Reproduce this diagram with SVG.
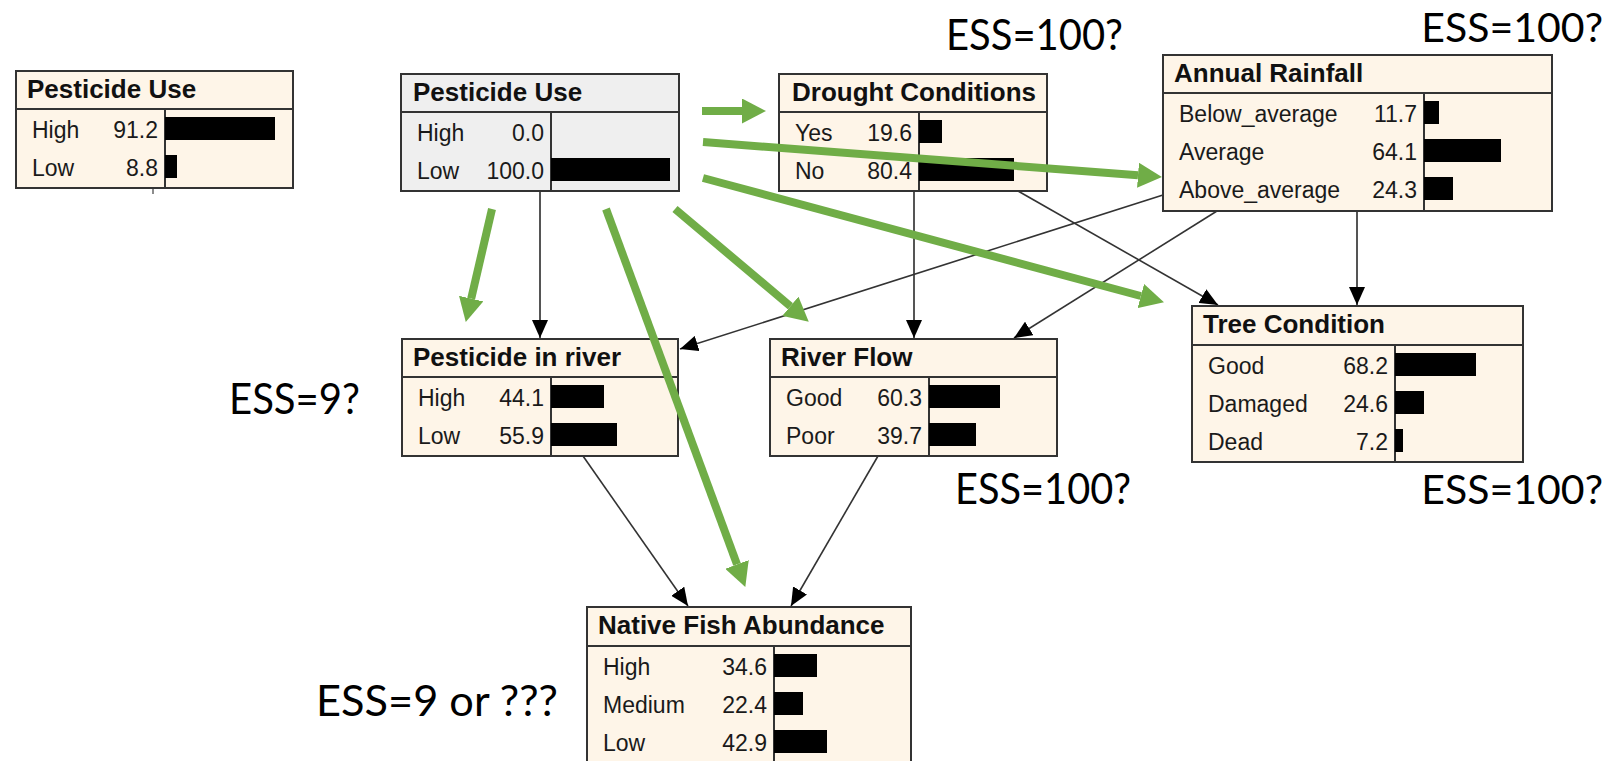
<svg xmlns="http://www.w3.org/2000/svg" width="1614" height="761" viewBox="0 0 1614 761">
  <style>
    .box { fill: #fef5e8; stroke: #333; stroke-width: 2; }
    .box.obs { fill: #efefef; }
    .sep { stroke: #333; stroke-width: 2; fill: none; }
    .title { font-family: "Liberation Sans", Arial, sans-serif; font-weight: bold; font-size: 26px; fill: #111; }
    .lbl { font-family: "Liberation Sans", Arial, sans-serif; font-size: 23px; fill: #1a1a1a; }
    .val { font-family: "Liberation Sans", Arial, sans-serif; font-size: 23px; fill: #1a1a1a; text-anchor: end; }
    .bar { fill: #000; }
    .link { stroke: #333; stroke-width: 1.6; fill: none; marker-end: url(#head); }
    .link.strong { stroke: #555; stroke-width: 2; }
    .hint { stroke: #70ad47; stroke-width: 8; fill: none; marker-end: url(#ghead); }
    .ess { font-family: Lato, "Open Sans", sans-serif; font-size: 43px; fill: #000; }
    .ess.edge { font-size: 41px; text-anchor: end; }
  </style>
  <defs>
    <marker id="head" markerUnits="userSpaceOnUse" markerWidth="18" markerHeight="16" refX="18" refY="8" orient="auto">
      <path d="M0,0 L18,8 L0,16 Z" fill="#000"/>
    </marker>
    <marker id="ghead" markerUnits="userSpaceOnUse" markerWidth="24" markerHeight="25" refX="0" refY="12.5" orient="auto">
      <path d="M0,0 L24,12.5 L0,25 Z" fill="#70ad47"/>
    </marker>
  </defs>

  <rect width="1614" height="761" fill="#fff"/>

  <!-- network links -->
  <g id="connectors">
    <line class="link strong" x1="540" y1="191" x2="540" y2="338"/>
    <line class="link strong" x1="914" y1="191" x2="914" y2="338"/>
    <line class="link" x1="1018" y1="191" x2="1218" y2="305"/>
    <line class="link" x1="1163" y1="195" x2="680" y2="349"/>
    <line class="link" x1="1217" y1="211" x2="1014" y2="338"/>
    <line class="link strong" x1="1357" y1="211" x2="1357" y2="305"/>
    <line class="link" x1="583" y1="456" x2="688" y2="606"/>
    <line class="link" x1="878" y1="456" x2="791" y2="606"/>
    <line x1="153" y1="188" x2="153" y2="194" stroke="#666" stroke-width="1.5"/>
  </g>

  <!-- Pesticide Use (prior) -->
  <g id="pesticide-use-prior">
    <rect class="box" x="16" y="71" width="277" height="117"/>
    <line class="sep" x1="16" y1="109" x2="293" y2="109"/>
    <line class="sep" x1="165" y1="109" x2="165" y2="188"/>
    <text class="title" x="27" y="98">Pesticide Use</text>
    <text class="lbl" x="32" y="138">High</text><text class="val" x="158" y="138">91.2</text>
    <rect class="bar" x="165" y="117" width="110" height="23"/>
    <text class="lbl" x="32" y="176">Low</text><text class="val" x="158" y="176">8.8</text>
    <rect class="bar" x="165" y="155" width="12" height="23"/>
  </g>

  <!-- Pesticide Use (observed) -->
  <g id="pesticide-use">
    <rect class="box obs" x="401" y="74" width="278" height="117"/>
    <line class="sep" x1="401" y1="112" x2="679" y2="112"/>
    <line class="sep" x1="551" y1="112" x2="551" y2="191"/>
    <text class="title" x="413" y="101">Pesticide Use</text>
    <text class="lbl" x="417" y="141">High</text><text class="val" x="544" y="141">0.0</text>
    <text class="lbl" x="417" y="179">Low</text><text class="val" x="544" y="179">100.0</text>
    <rect class="bar" x="551" y="158" width="119" height="23"/>
  </g>

  <!-- Drought Conditions -->
  <g id="drought-conditions">
    <rect class="box" x="779" y="74" width="268" height="117"/>
    <line class="sep" x1="779" y1="112" x2="1047" y2="112"/>
    <line class="sep" x1="919" y1="112" x2="919" y2="191"/>
    <text class="title" x="792" y="101">Drought Conditions</text>
    <text class="lbl" x="795" y="141">Yes</text><text class="val" x="912" y="141">19.6</text>
    <rect class="bar" x="919" y="120" width="23" height="23"/>
    <text class="lbl" x="795" y="179">No</text><text class="val" x="912" y="179">80.4</text>
    <rect class="bar" x="919" y="158" width="95" height="23"/>
  </g>

  <!-- Annual Rainfall -->
  <g id="annual-rainfall">
    <rect class="box" x="1163" y="55" width="389" height="156"/>
    <line class="sep" x1="1163" y1="93" x2="1552" y2="93"/>
    <line class="sep" x1="1424" y1="93" x2="1424" y2="211"/>
    <text class="title" x="1174" y="82">Annual Rainfall</text>
    <text class="lbl" x="1179" y="122">Below_average</text><text class="val" x="1417" y="122">11.7</text>
    <rect class="bar" x="1424" y="101" width="15" height="23"/>
    <text class="lbl" x="1179" y="160">Average</text><text class="val" x="1417" y="160">64.1</text>
    <rect class="bar" x="1424" y="139" width="77" height="23"/>
    <text class="lbl" x="1179" y="198">Above_average</text><text class="val" x="1417" y="198">24.3</text>
    <rect class="bar" x="1424" y="177" width="29" height="23"/>
  </g>

  <!-- Pesticide in river -->
  <g id="pesticide-in-river">
    <rect class="box" x="402" y="339" width="276" height="117"/>
    <line class="sep" x1="402" y1="377" x2="678" y2="377"/>
    <line class="sep" x1="551" y1="377" x2="551" y2="456"/>
    <text class="title" x="413" y="366">Pesticide in river</text>
    <text class="lbl" x="418" y="406">High</text><text class="val" x="544" y="406">44.1</text>
    <rect class="bar" x="551" y="385" width="53" height="23"/>
    <text class="lbl" x="418" y="444">Low</text><text class="val" x="544" y="444">55.9</text>
    <rect class="bar" x="551" y="423" width="66" height="23"/>
  </g>

  <!-- River Flow -->
  <g id="river-flow">
    <rect class="box" x="770" y="339" width="287" height="117"/>
    <line class="sep" x1="770" y1="377" x2="1057" y2="377"/>
    <line class="sep" x1="929" y1="377" x2="929" y2="456"/>
    <text class="title" x="781" y="366">River Flow</text>
    <text class="lbl" x="786" y="406">Good</text><text class="val" x="922" y="406">60.3</text>
    <rect class="bar" x="929" y="385" width="71" height="23"/>
    <text class="lbl" x="786" y="444">Poor</text><text class="val" x="922" y="444">39.7</text>
    <rect class="bar" x="929" y="423" width="47" height="23"/>
  </g>

  <!-- Tree Condition -->
  <g id="tree-condition">
    <rect class="box" x="1192" y="306" width="331" height="156"/>
    <line class="sep" x1="1192" y1="345" x2="1523" y2="345"/>
    <line class="sep" x1="1395" y1="345" x2="1395" y2="462"/>
    <text class="title" x="1203" y="333">Tree Condition</text>
    <text class="lbl" x="1208" y="374">Good</text><text class="val" x="1388" y="374">68.2</text>
    <rect class="bar" x="1395" y="353" width="81" height="23"/>
    <text class="lbl" x="1208" y="412">Damaged</text><text class="val" x="1388" y="412">24.6</text>
    <rect class="bar" x="1395" y="391" width="29" height="23"/>
    <text class="lbl" x="1208" y="450">Dead</text><text class="val" x="1388" y="450">7.2</text>
    <rect class="bar" x="1395" y="429" width="8" height="23"/>
  </g>

  <!-- Native Fish Abundance -->
  <g id="native-fish-abundance">
    <rect class="box" x="587" y="607" width="324" height="180"/>
    <line class="sep" x1="587" y1="646" x2="911" y2="646"/>
    <line class="sep" x1="774" y1="646" x2="774" y2="787"/>
    <text class="title" x="598" y="634">Native Fish Abundance</text>
    <text class="lbl" x="603" y="675">High</text><text class="val" x="767" y="675">34.6</text>
    <rect class="bar" x="774" y="654" width="43" height="23"/>
    <text class="lbl" x="603" y="713">Medium</text><text class="val" x="767" y="713">22.4</text>
    <rect class="bar" x="774" y="692" width="29" height="23"/>
    <text class="lbl" x="603" y="751">Low</text><text class="val" x="767" y="751">42.9</text>
    <rect class="bar" x="774" y="730" width="53" height="23"/>
  </g>

  <!-- influence arrows from the observed Pesticide Use node -->
  <g id="influence">
    <line class="hint" x1="702" y1="111" x2="742" y2="111"/>
    <line class="hint" x1="703" y1="142" x2="1138" y2="175.2"/>
    <line class="hint" x1="703" y1="178" x2="1140.8" y2="296"/>
    <line class="hint" x1="675" y1="209" x2="790.4" y2="306.2"/>
    <line class="hint" x1="492" y1="209" x2="471.2" y2="298.6"/>
    <line class="hint" x1="606" y1="209" x2="737" y2="564.4"/>
  </g>

  <!-- effective sample size notes -->
  <g id="notes">
    <text class="ess" x="946" y="50" textLength="177" lengthAdjust="spacingAndGlyphs">ESS=100?</text>
    <text class="ess edge" x="1603" y="42">ESS=100?</text>
    <text class="ess" x="229" y="414" textLength="131" lengthAdjust="spacingAndGlyphs">ESS=9?</text>
    <text class="ess" x="955" y="504" textLength="176" lengthAdjust="spacingAndGlyphs">ESS=100?</text>
    <text class="ess edge" x="1603" y="504">ESS=100?</text>
    <text class="ess" x="316" y="716" textLength="242" lengthAdjust="spacingAndGlyphs">ESS=9 or ???</text>
  </g>
</svg>
